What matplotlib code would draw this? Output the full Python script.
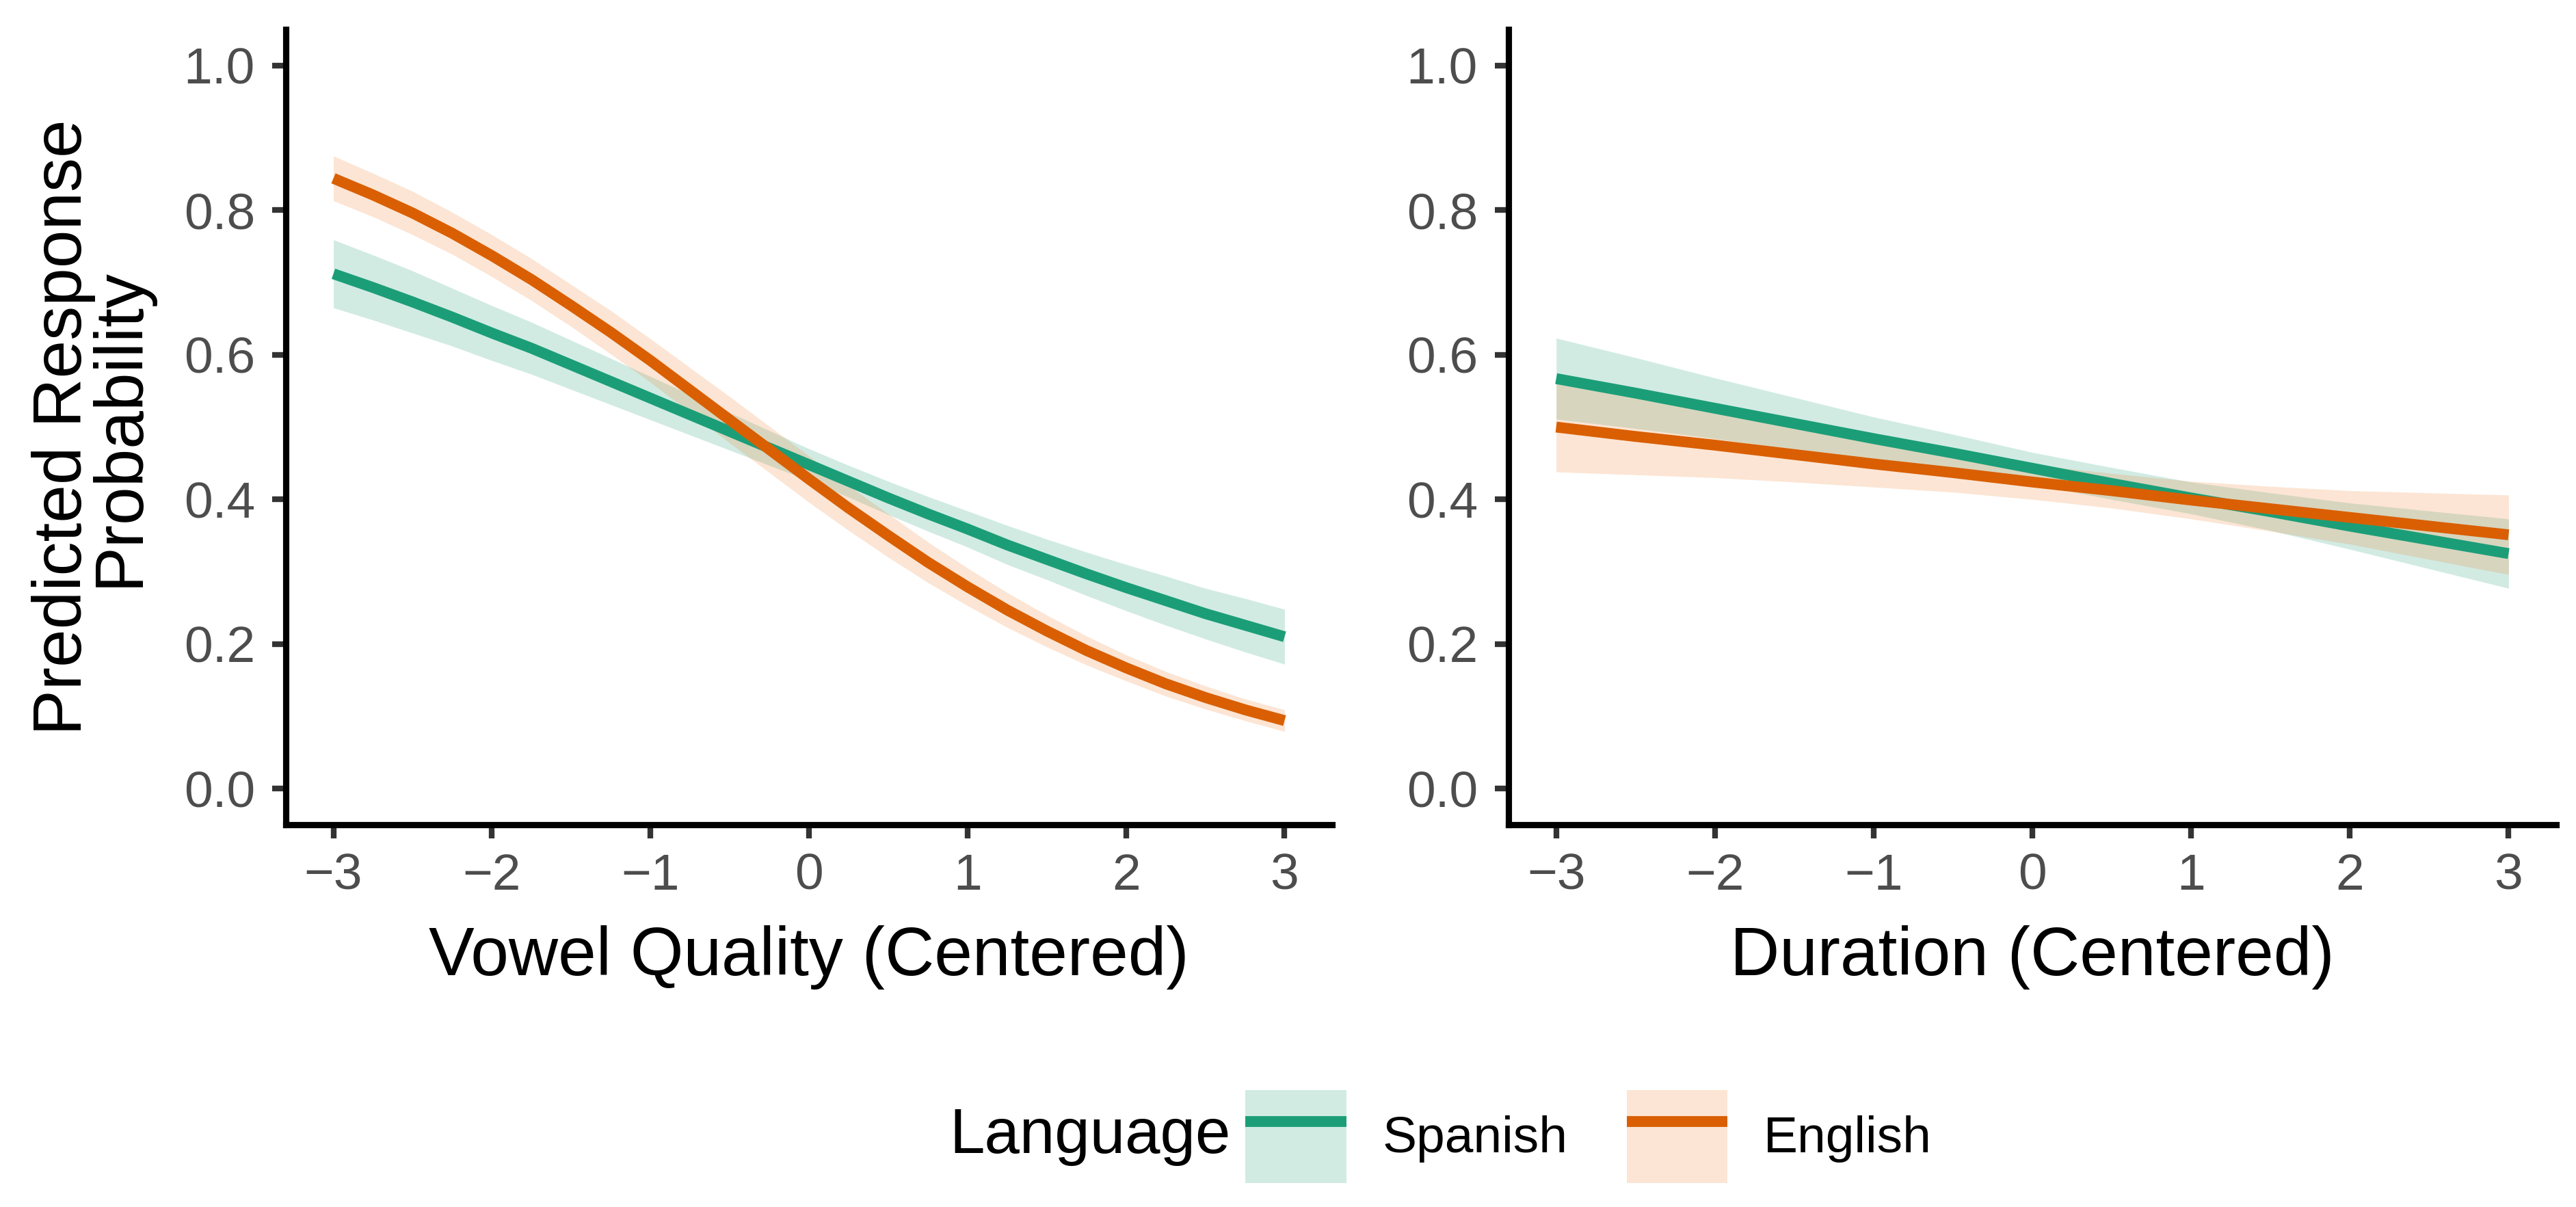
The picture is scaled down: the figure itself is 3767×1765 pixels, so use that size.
import matplotlib
matplotlib.use("Agg")
import matplotlib.pyplot as plt
from matplotlib.patches import Patch
from matplotlib.lines import Line2D
from matplotlib.legend_handler import HandlerTuple

plt.rcParams['font.family'] = ['Liberation Sans', 'DejaVu Sans']

# ---- data ----
languages = ["Spanish", "English"]

# Panel 1: Vowel Quality (values read at 0.25 steps)
vq_x = [-3, -2.75, -2.5, -2.25, -2, -1.75, -1.5, -1.25, -1, -0.75, -0.5, -0.25, 0,
        0.25, 0.5, 0.75, 1, 1.25, 1.5, 1.75, 2, 2.25, 2.5, 2.75, 3]
vq_spanish_fit = [0.712, 0.693, 0.673, 0.652, 0.630, 0.609, 0.586, 0.563, 0.540, 0.517, 0.494, 0.471, 0.448,
                  0.425, 0.402, 0.380, 0.359, 0.337, 0.317, 0.297, 0.278, 0.260, 0.242, 0.226, 0.210]
vq_spanish_ci  = [0.047, 0.045, 0.043, 0.040, 0.038, 0.036, 0.034, 0.032, 0.030, 0.028, 0.026, 0.024, 0.022,
                  0.022, 0.023, 0.024, 0.025, 0.027, 0.028, 0.030, 0.032, 0.034, 0.035, 0.037, 0.038]
vq_english_fit = [0.844, 0.821, 0.796, 0.768, 0.737, 0.704, 0.668, 0.631, 0.592, 0.551, 0.510, 0.469, 0.428,
                  0.388, 0.350, 0.313, 0.279, 0.247, 0.218, 0.191, 0.167, 0.145, 0.126, 0.109, 0.094]
vq_english_ci  = [0.031, 0.030, 0.030, 0.029, 0.029, 0.029, 0.029, 0.030, 0.030, 0.031, 0.032, 0.032, 0.032,
                  0.031, 0.030, 0.028, 0.026, 0.024, 0.022, 0.020, 0.018, 0.017, 0.016, 0.015, 0.015]

# Panel 2: Duration (values read at 0.5 steps)
du_x = [-3, -2.5, -2, -1.5, -1, -0.5, 0, 0.5, 1, 1.5, 2, 2.5, 3]
du_spanish_fit = [0.567, 0.547, 0.526, 0.505, 0.484, 0.464, 0.443, 0.422, 0.402, 0.383, 0.363, 0.344, 0.325]
du_spanish_ci  = [0.056, 0.049, 0.042, 0.036, 0.030, 0.026, 0.022, 0.022, 0.022, 0.026, 0.032, 0.040, 0.048]
du_english_fit = [0.500, 0.487, 0.475, 0.462, 0.449, 0.437, 0.424, 0.412, 0.399, 0.387, 0.375, 0.363, 0.351]
du_english_ci  = [0.062, 0.053, 0.045, 0.038, 0.032, 0.027, 0.024, 0.024, 0.026, 0.031, 0.037, 0.046, 0.055]

x_ticks = [-3, -2, -1, 0, 1, 2, 3]
x_tick_labels = ["\u22123", "\u22122", "\u22121", "0", "1", "2", "3"]
y_ticks = [0.0, 0.2, 0.4, 0.6, 0.8, 1.0]
y_tick_labels = ["0.0", "0.2", "0.4", "0.6", "0.8", "1.0"]

panels = [
    ("Vowel Quality (Centered)", vq_x,
     [(vq_spanish_fit, vq_spanish_ci), (vq_english_fit, vq_english_ci)]),
    ("Duration (Centered)", du_x,
     [(du_spanish_fit, du_spanish_ci), (du_english_fit, du_english_ci)]),
]

line_colors = {"Spanish": "#1B9E77", "English": "#D95F02"}
fill_colors = {"Spanish": "#1B9E77", "English": "#F07F2A"}
fill_alpha = 0.2
lw = 3.8

W, H = 3767, 1765
dpi = 300
fig = plt.figure(figsize=(W / dpi, H / dpi), dpi=dpi)

axes_rects = [
    (418 / W, 559 / H, 1530 / W, 1163 / H),
    (2206 / W, 559 / H, 1532 / W, 1163 / H),
]

for i, ((xlabel, xs, series), rect) in enumerate(zip(panels, axes_rects)):
    ax = fig.add_axes(rect)
    for lang, (fit, ci) in zip(languages, series):
        lo = [f - c for f, c in zip(fit, ci)]
        hi = [f + c for f, c in zip(fit, ci)]
        ax.fill_between(xs, lo, hi, color=fill_colors[lang], alpha=fill_alpha, linewidth=0, zorder=1)
    for lang, (fit, ci) in zip(languages, series):
        ax.plot(xs, fit, color=line_colors[lang], linewidth=lw, solid_capstyle='butt',
                solid_joinstyle='round', zorder=3)
    ax.set_xlim(-3.3, 3.3)
    ax.set_ylim(-0.05, 1.05)
    ax.set_xticks(x_ticks)
    ax.set_xticklabels(x_tick_labels)
    ax.set_yticks(y_ticks)
    ax.set_yticklabels(y_tick_labels)
    for s in ("top", "right"):
        ax.spines[s].set_visible(False)
    for s in ("left", "bottom"):
        ax.spines[s].set_linewidth(2.2)
        ax.spines[s].set_color("black")
        ax.spines[s].set_capstyle('projecting')
    ax.tick_params(axis='both', length=4.8, width=2.0, color="#333333",
                   labelsize=18, labelcolor="#4D4D4D")
    ax.tick_params(axis='x', pad=5)
    ax.tick_params(axis='y', pad=6)
    ax.set_xlabel(xlabel, fontsize=24, color="black", labelpad=9)
    if i == 0:
        ax.set_ylabel("Predicted Response\nProbability", fontsize=24, color="black",
                      labelpad=11, linespacing=0.85)

# legend
handles = [(Patch(facecolor=fill_colors[l], alpha=fill_alpha, edgecolor='none'),
            Line2D([], [], color=line_colors[l], linewidth=lw, solid_capstyle='butt'))
           for l in languages]
leg = fig.legend(handles, languages, handler_map={tuple: HandlerTuple(ndivide=1, pad=0)},
                 loc='center left', bbox_to_anchor=(1821 / W, 103 / H), ncol=2, frameon=False,
                 fontsize=18, handlelength=1.97, handleheight=2.4, handletextpad=0.7,
                 columnspacing=1.15, borderpad=0, borderaxespad=0)
fig.text(1388 / W, 103 / H, "Language", fontsize=22.2, ha='left', va='center', color='black')

fig.savefig("out.png", dpi=dpi, facecolor="white")
